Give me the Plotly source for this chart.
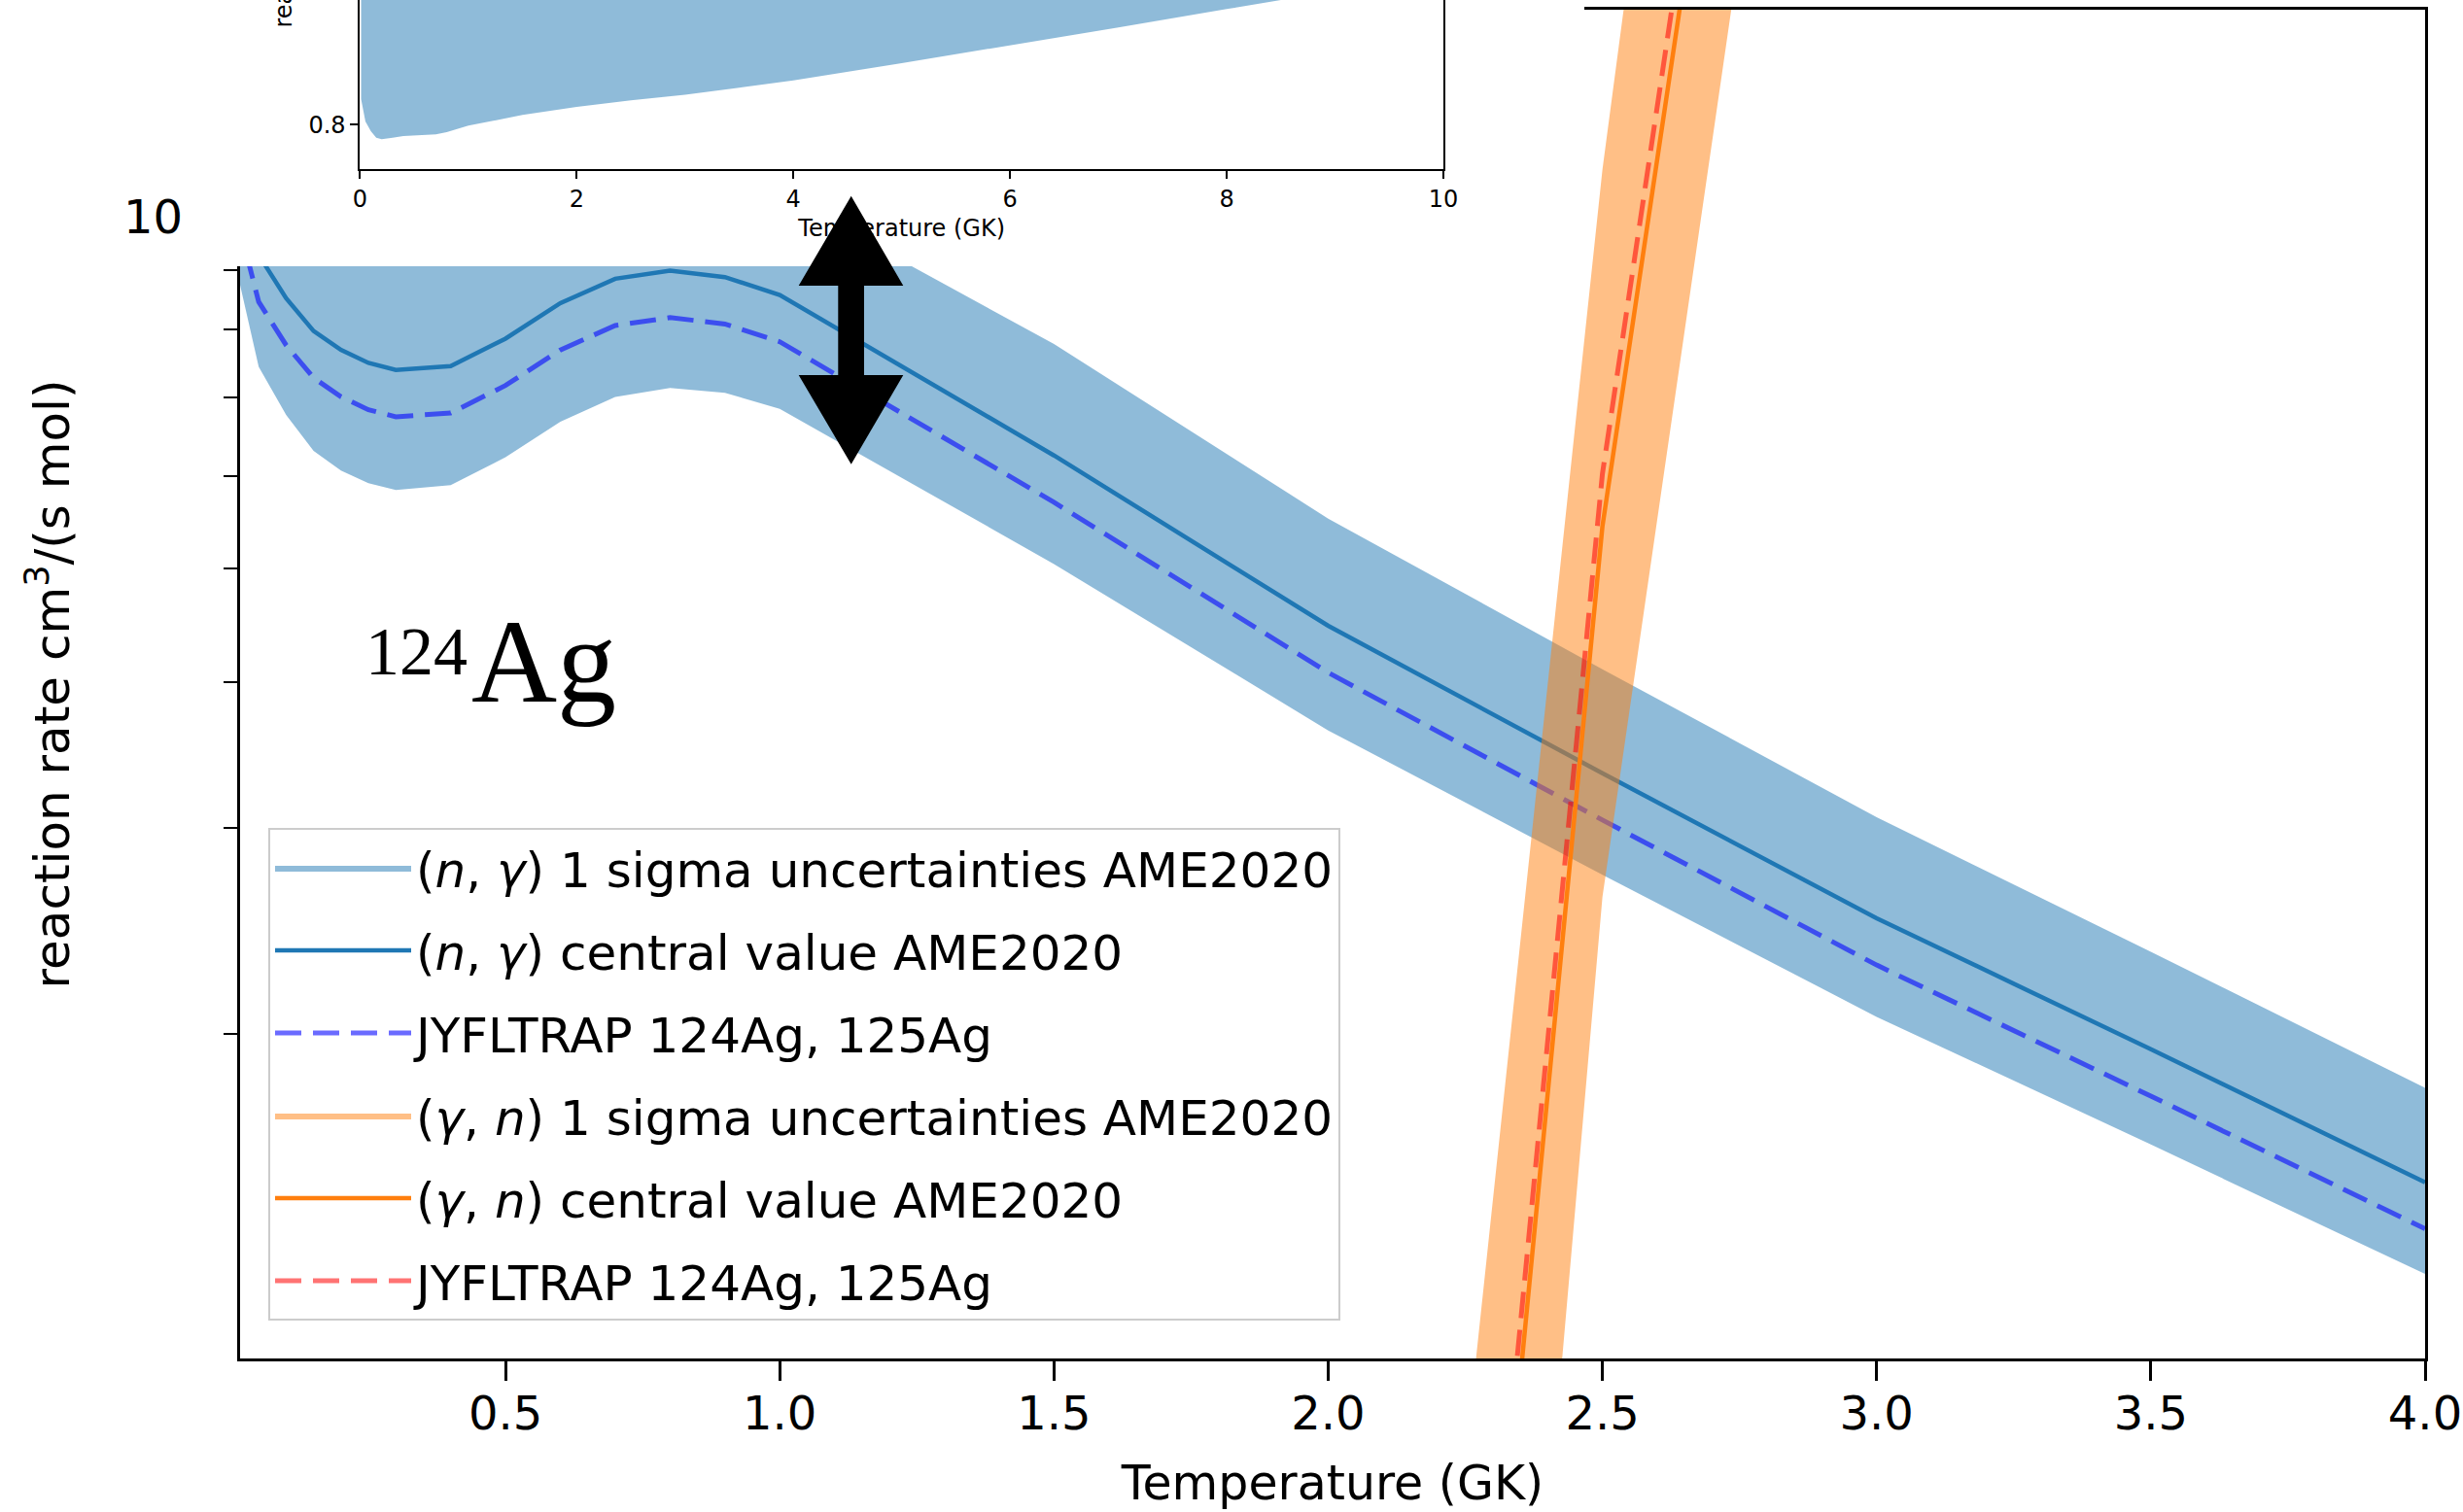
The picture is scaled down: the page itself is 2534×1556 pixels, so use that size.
import plotly.graph_objects as go

W, H = 2534, 1556

# ---------------- data ----------------
# temperature grid (GK) of the main panel
T = [0.01, 0.05, 0.1, 0.15, 0.2, 0.25, 0.3, 0.4, 0.5, 0.6, 0.7, 0.8, 0.9, 1.0,
     1.5, 2.0, 2.5, 3.0, 3.5, 4.0]
# (n,gamma) rates, cm^3/(s mol)
ng_central = [1.0965e7, 9.268e6, 8.511e6, 7.980e6, 7.689e6, 7.495e6, 7.391e6, 7.447e6,
              7.862e6, 8.431e6, 8.845e6, 8.986e6, 8.873e6, 8.568e6, 6.247e6, 4.467e6,
              3.342e6, 2.512e6, 1.941e6, 1.494e6]
ng_lower = [8.991e6, 7.438e6, 6.765e6, 6.303e6, 6.064e6, 5.914e6, 5.837e6, 5.891e6,
            6.224e6, 6.674e6, 7.009e6, 7.136e6, 7.068e6, 6.848e6, 5.045e6, 3.636e6,
            2.737e6, 2.069e6, 1.609e6, 1.247e6]
ng_upper = [1.344e7, 1.160e7, 1.076e7, 1.015e7, 9.796e6, 9.549e6, 9.401e6, 9.458e6,
            9.985e6, 1.071e7, 1.122e7, 1.138e7, 1.120e7, 1.045e7, 7.778e6, 5.517e6,
            4.101e6, 3.065e6, 2.352e6, 1.799e6]
ng_jyfl = [1.0000e7, 8.452e6, 7.762e6, 7.278e6, 7.012e6, 6.835e6, 6.741e6, 6.792e6,
           7.170e6, 7.689e6, 8.067e6, 8.195e6, 8.092e6, 7.814e6, 5.697e6, 4.074e6,
           3.048e6, 2.291e6, 1.770e6, 1.363e6]
# (gamma,n) rates
T_gn = [2.0, 2.5, 3.0]
gn_central = [2.014e4, 5.433e6, 2.018e8]
gn_lower = [5.370e3, 2.618e6, 1.079e8]
gn_upper = [6.839e4, 1.096e7, 6.457e8]
gn_jyfl = [2.234e4, 6.026e6, 2.239e8]
# inset: uncertainty band relative to the central value
T_ratio = [0.01, 0.05, 0.1, 0.15, 0.2, 0.25, 0.3, 0.4, 0.5, 0.6, 0.7, 0.8, 0.9, 1.0,
           1.5, 2.0, 2.5, 3.0, 3.5, 4.0, 5.0, 6.0, 7.0, 8.0, 9.0, 10.0]
ratio_lower = [0.820, 0.8025, 0.7949, 0.7898, 0.7886, 0.789, 0.7898, 0.7911, 0.7916,
               0.7916, 0.7924, 0.7941, 0.7966, 0.7992, 0.8076, 0.8139, 0.819, 0.8235,
               0.829, 0.8347, 0.8482, 0.8621, 0.8762, 0.8906, 0.905, 0.919]
ratio_upper = [1.226, 1.252, 1.264, 1.272, 1.274, 1.274, 1.272, 1.270, 1.270, 1.270,
               1.268, 1.266, 1.262, 1.258, 1.245, 1.235, 1.227, 1.220, 1.212, 1.204,
               1.186, 1.166, 1.147, 1.128, 1.110, 1.094]
# ticks
x_ticks = [0.5, 1.0, 1.5, 2.0, 2.5, 3.0, 3.5, 4.0]
x_tick_labels = ["0.5", "1.0", "1.5", "2.0", "2.5", "3.0", "3.5", "4.0"]
y_major_ticks = [1e7]
y_major_labels = ["10<sup>7</sup>"]
y_minor_ticks = [2e6, 3e6, 4e6, 5e6, 6e6, 7e6, 8e6, 9e6]
inset_x_ticks = [0, 2, 4, 6, 8, 10]
inset_y_ticks = [0.8, 0.9]

# legend texts
lbl_ng_band = "(<i>n</i>, <i>γ</i>) 1 sigma uncertainties AME2020"
lbl_ng_central = "(<i>n</i>, <i>γ</i>) central value AME2020"
lbl_gn_band = "(<i>γ</i>, <i>n</i>) 1 sigma uncertainties AME2020"
lbl_gn_central = "(<i>γ</i>, <i>n</i>) central value AME2020"
lbl_jyfl = "JYFLTRAP 124Ag, 125Ag"

# ---------------- styling ----------------
FONT = "DejaVu Sans"
BLUE = "#1f77b4"
BLUE_FILL = "rgba(31,119,180,0.5)"
ORANGE = "#ff7f0e"
ORANGE_FILL = "rgba(255,127,14,0.5)"
BLUE_DASH = "rgba(0,0,255,0.58)"
RED_DASH = "rgba(255,0,0,0.55)"
DASH = "27px,12px"


def px(x):
    return x / W


def py(y):
    return 1 - y / H


fig = go.Figure()

# ---- main panel ----
fig.add_trace(go.Scatter(x=T, y=ng_lower, mode="lines", line=dict(width=0),
                         showlegend=False, legendgroup="g1", hoverinfo="skip"))
fig.add_trace(go.Scatter(x=T, y=ng_upper, mode="lines", line=dict(width=0),
                         fill="tonexty", fillcolor=BLUE_FILL, name=lbl_ng_band,
                         legendgroup="g1"))
fig.add_trace(go.Scatter(x=T, y=ng_central, mode="lines",
                         line=dict(color=BLUE, width=4.5), name=lbl_ng_central,
                         legendgroup="g2"))
fig.add_trace(go.Scatter(x=T, y=ng_jyfl, mode="lines",
                         line=dict(color=BLUE_DASH, width=5, dash=DASH), name=lbl_jyfl,
                         legendgroup="g3"))
fig.add_trace(go.Scatter(x=T_gn, y=gn_lower, mode="lines", line=dict(width=0),
                         showlegend=False, legendgroup="g4", hoverinfo="skip"))
fig.add_trace(go.Scatter(x=T_gn, y=gn_upper, mode="lines", line=dict(width=0),
                         fill="tonexty", fillcolor=ORANGE_FILL, name=lbl_gn_band,
                         legendgroup="g4"))
fig.add_trace(go.Scatter(x=T_gn, y=gn_central, mode="lines",
                         line=dict(color=ORANGE, width=4.5), name=lbl_gn_central,
                         legendgroup="g5"))
fig.add_trace(go.Scatter(x=T_gn, y=gn_jyfl, mode="lines",
                         line=dict(color=RED_DASH, width=5, dash=DASH), name=lbl_jyfl,
                         legendgroup="g6"))

# ---- white cover panel of the pasted inset ----
fig.add_trace(go.Scatter(x=[], y=[], xaxis="x2", yaxis="y2", showlegend=False,
                         hoverinfo="skip"))

# ---- inset panel ----
fig.add_trace(go.Scatter(x=T_ratio, y=ratio_lower, xaxis="x3", yaxis="y3", mode="lines",
                         line=dict(width=0), showlegend=False, hoverinfo="skip"))
fig.add_trace(go.Scatter(x=T_ratio, y=ratio_upper, xaxis="x3", yaxis="y3", mode="lines",
                         line=dict(width=0), fill="tonexty", fillcolor=BLUE_FILL,
                         showlegend=False, hoverinfo="skip"))

axis_common = dict(showline=True, linecolor="black", ticks="outside", tickcolor="black",
                   showgrid=False, zeroline=False, automargin=False)

fig.update_layout(
    width=W, height=H, autosize=False,
    margin=dict(l=0, r=0, t=0, b=0, pad=0),
    paper_bgcolor="white", plot_bgcolor="white",
    font=dict(family=FONT, color="black", size=48),
    xaxis=dict(axis_common, domain=[px(247), px(2495)], range=[0.016, 4.0],
               tickvals=x_ticks, ticktext=x_tick_labels, ticklen=20, tickwidth=2.5,
               linewidth=3, mirror=True, anchor="y", ticklabelstandoff=-8,
               tickfont=dict(family=FONT, size=48, color="black"),
               title=dict(text="Temperature (GK)", font=dict(family=FONT, size=49),
                          standoff=29)),
    yaxis=dict(axis_common, type="log", domain=[py(1398), py(10)],
               range=[6.0237, 7.1767], tickvals=y_major_ticks, ticktext=y_major_labels,
               ticklen=20, tickwidth=2.5, linewidth=3, mirror=True, anchor="x",
               ticklabelstandoff=5,
               tickfont=dict(family=FONT, size=48, color="black"),
               minor=dict(tickvals=y_minor_ticks, ticks="outside", ticklen=14,
                          tickwidth=2, tickcolor="black"),
               title=dict(text="reaction rate cm<sup>3</sup>/(s mol)",
                          font=dict(family=FONT, size=50), standoff=40)),
    xaxis2=dict(domain=[px(190), px(1630)], range=[0, 1], anchor="y2", visible=False),
    yaxis2=dict(domain=[py(274), 1.0], range=[0, 1], anchor="x2", visible=False),
    xaxis3=dict(axis_common, domain=[px(370.4), px(1485)], range=[0, 10], anchor="y3",
                tickvals=inset_x_ticks, ticklen=8, tickwidth=1.8, linewidth=2,
                mirror=False, tickfont=dict(family=FONT, size=24, color="black"),
                title=dict(text="Temperature (GK)", font=dict(family=FONT, size=24),
                           standoff=8)),
    yaxis3=dict(axis_common, domain=[py(174), 1.0], range=[0.7652, 0.8977], anchor="x3",
                tickvals=inset_y_ticks, tickformat=".1f", ticklen=8, tickwidth=1.8,
                linewidth=2, mirror=True,
                tickfont=dict(family=FONT, size=24, color="black")),
    legend=dict(x=px(276), y=py(852), xanchor="left", yanchor="top",
                bgcolor="rgba(255,255,255,0.8)", bordercolor="#cccccc", borderwidth=2,
                font=dict(family=FONT, size=50, color="black"),
                tracegroupgap=17, itemwidth=140, traceorder="grouped"),
    showlegend=True,
)

# inset y-axis title (only its beginning is inside the picture)
fig.add_annotation(text="reaction rate ratio", textangle=-90, x=px(291), y=py(31),
                   xref="paper", yref="paper", xanchor="center", yanchor="bottom",
                   showarrow=False, font=dict(family=FONT, size=24, color="black"))

# nucleus label
fig.add_annotation(text="124", x=px(374), y=py(671), xref="paper", yref="paper",
                   xanchor="left", yanchor="middle", showarrow=False,
                   font=dict(family="Liberation Serif", size=70, color="black"))
fig.add_annotation(text="Ag", x=px(483), y=py(680), xref="paper", yref="paper",
                   xanchor="left", yanchor="middle", showarrow=False,
                   font=dict(family="Liberation Serif", size=122, color="black"))

# double-headed arrow
pts = [(875.7, 201.7), (929.3, 294), (889, 294), (889, 386), (929.3, 386),
       (875.7, 477.7), (821.7, 386), (862.3, 386), (862.3, 294), (821.7, 294)]
path = "M " + " L ".join(f"{px(a):.5f},{py(b):.5f}" for a, b in pts) + " Z"
fig.add_shape(type="path", path=path, xref="paper", yref="paper",
              fillcolor="black", line=dict(width=0), layer="above")

fig.write_html("out.html")
